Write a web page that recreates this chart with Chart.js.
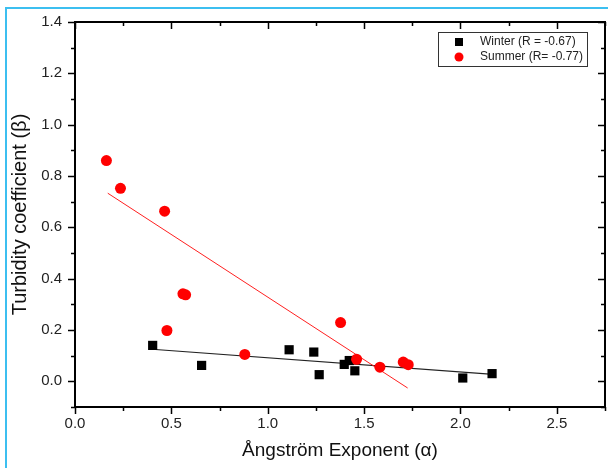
<!DOCTYPE html>
<html>
<head>
<meta charset="utf-8">
<script src="https://cdn.jsdelivr.net/npm/chart.js@4.4.1/dist/chart.umd.min.js"></script>
<style>
  body { margin: 0; background: #fff; }
  canvas { display: block; }
</style>
</head>
<body>
<canvas id="turbidityChart" width="608" height="468"></canvas>
<script>
// values
const winterX = [0.403, 0.657, 1.111, 1.239, 1.267, 1.397, 1.423, 1.452, 2.012, 2.164];
const winterY = [0.140, 0.062, 0.123, 0.114, 0.026, 0.066, 0.081, 0.041, 0.013, 0.030];

const summerX = [0.163, 0.236, 0.465, 0.477, 0.560, 0.574, 0.881, 1.378, 1.461, 1.582, 1.703, 1.729];
const summerY = [0.860, 0.752, 0.663, 0.198, 0.341, 0.337, 0.105, 0.229, 0.086, 0.055, 0.075, 0.065];

// fitted lines (end points as drawn in the picture)
const winterFitX = [0.40, 2.17];
const winterFitY = [0.125, 0.027];
const summerFitX = [0.170, 1.726];
const summerFitY = [0.733, -0.026];

const xTicks = [0.0, 0.5, 1.0, 1.5, 2.0, 2.5];
const yTicks = [0.0, 0.2, 0.4, 0.6, 0.8, 1.0, 1.2, 1.4];

const labels = ['Winter (R = -0.67)', 'Summer (R= -0.77)'];

function toPoints(xs, ys) {
    return xs.map((x, i) => ({ x: x, y: ys[i] }));
}

// blue frame of the original figure (top and left edge only)
const framePlugin = {
    id: 'frame',
    beforeDraw(chart) {
        const ctx = chart.ctx;
        ctx.save();
        ctx.fillStyle = '#fff';
        ctx.fillRect(0, 0, chart.width, chart.height);
        ctx.strokeStyle = '#3cbff0';
        ctx.lineWidth = 2;
        ctx.beginPath();
        ctx.moveTo(6, chart.height);
        ctx.lineTo(6, 8);
        ctx.lineTo(chart.width, 8);
        ctx.stroke();
        ctx.restore();
    }
};

// box axes with major/minor ticks, Origin style
const axesPlugin = {
    id: 'boxAxes',
    afterDatasetsDraw(chart) {
        const ctx = chart.ctx;
        const a = chart.chartArea;
        const xs = chart.scales.x, ys = chart.scales.y;
        ctx.save();
        ctx.strokeStyle = '#000';
        ctx.lineWidth = 2;
        ctx.strokeRect(a.left, a.top, a.right - a.left, a.bottom - a.top);
        ctx.lineWidth = 1.5;
        ctx.beginPath();
        const step = xTicks[1] - xTicks[0];
        for (let v = xs.min; v <= xs.max + 1e-9; v += step / 2) {
            const major = xTicks.some(t => Math.abs(t - v) < 1e-6);
            const len = major ? 7 : 4;
            const px = Math.round(xs.getPixelForValue(v)) + 0.5;
            ctx.moveTo(px, a.bottom); ctx.lineTo(px, a.bottom + len);
            ctx.moveTo(px, a.top); ctx.lineTo(px, a.top + len);
        }
        const ystep = yTicks[1] - yTicks[0];
        for (let v = ys.min; v <= ys.max + 1e-9; v += ystep / 2) {
            const major = yTicks.some(t => Math.abs(t - v) < 1e-6);
            const len = major ? 7 : 4;
            const py = Math.round(ys.getPixelForValue(v)) + 0.5;
            ctx.moveTo(a.left, py); ctx.lineTo(a.left - len, py);
            ctx.moveTo(a.right, py); ctx.lineTo(a.right - len, py);
        }
        ctx.stroke();
        ctx.restore();
    }
};

// legend box inside the plot, top right
const legendPlugin = {
    id: 'boxLegend',
    afterDraw(chart) {
        const ctx = chart.ctx;
        const a = chart.chartArea;
        const bx = a.right - 18 - 149, by = a.top + 10, bw = 149, bh = 34;
        ctx.save();
        ctx.fillStyle = '#fff';
        ctx.fillRect(bx, by, bw, bh);
        ctx.strokeStyle = '#333';
        ctx.lineWidth = 1;
        ctx.strokeRect(bx + 0.5, by + 0.5, bw, bh);
        ctx.font = '12px "Liberation Sans", Arial, sans-serif';
        ctx.textBaseline = 'middle';
        ctx.fillStyle = '#000';
        ctx.fillRect(bx + 17, by + 6, 8, 8);
        ctx.fillStyle = '#ff0000';
        ctx.beginPath();
        ctx.arc(bx + 21, by + 25, 4.5, 0, Math.PI * 2);
        ctx.fill();
        ctx.fillStyle = '#222';
        ctx.fillText(labels[0], bx + 42, by + 10);
        ctx.fillText(labels[1], bx + 42, by + 25);
        ctx.restore();
    }
};

new Chart(document.getElementById('turbidityChart'), {
    type: 'scatter',
    data: {
        datasets: [
            {
                label: labels[1],
                data: toPoints(summerX, summerY),
                pointStyle: 'circle',
                pointRadius: 5.5,
                backgroundColor: '#ff0000',
                borderWidth: 0,
                order: 1
            },
            {
                label: labels[0],
                data: toPoints(winterX, winterY),
                pointStyle: 'rect',
                pointRadius: 6.5,
                backgroundColor: '#000',
                borderWidth: 0,
                order: 2
            },
            {
                type: 'line',
                data: toPoints(summerFitX, summerFitY),
                borderColor: '#ff2020',
                borderWidth: 1,
                pointRadius: 0,
                order: 3
            },
            {
                type: 'line',
                data: toPoints(winterFitX, winterFitY),
                borderColor: '#222',
                borderWidth: 1.2,
                pointRadius: 0,
                order: 3
            }
        ]
    },
    options: {
        responsive: false,
        animation: false,
        layout: { autoPadding: false, padding: { left: 0, right: 3, top: 19, bottom: 0 } },
        plugins: {
            legend: { display: false },
            tooltip: { enabled: false }
        },
        scales: {
            x: {
                type: 'linear',
                min: 0,
                max: 2.75,
                afterBuildTicks: s => { s.ticks = xTicks.map(v => ({ value: v })); },
                afterFit: s => { s.height = 61; s.paddingLeft = 0; s.paddingRight = 0; },
                grid: { display: false, drawTicks: false },
                border: { display: false },
                ticks: {
                    padding: 8,
                    color: '#222',
                    font: { family: '"Liberation Sans", Arial, sans-serif', size: 15 },
                    callback: v => v.toFixed(1)
                },
                title: {
                    display: true,
                    text: 'Ångström Exponent (α)',
                    color: '#111',
                    font: { family: '"Liberation Sans", Arial, sans-serif', size: 19 },
                    padding: { top: 0, bottom: 6 }
                }
            },
            y: {
                type: 'linear',
                min: -0.1,
                max: 1.4,
                afterBuildTicks: s => { s.ticks = yTicks.map(v => ({ value: v })); },
                afterFit: s => { s.width = 75; },
                grid: { display: false, drawTicks: false },
                border: { display: false },
                ticks: {
                    padding: 13,
                    color: '#222',
                    font: { family: '"Liberation Sans", Arial, sans-serif', size: 15 },
                    callback: v => v.toFixed(1)
                },
                title: {
                    display: true,
                    text: 'Turbidity coefficient (β)',
                    color: '#111',
                    font: { family: '"Liberation Sans", Arial, sans-serif', size: 20 },
                    padding: { top: 8, bottom: 0 }
                }
            }
        }
    },
    plugins: [framePlugin, axesPlugin, legendPlugin]
});
</script>
</body>
</html>
